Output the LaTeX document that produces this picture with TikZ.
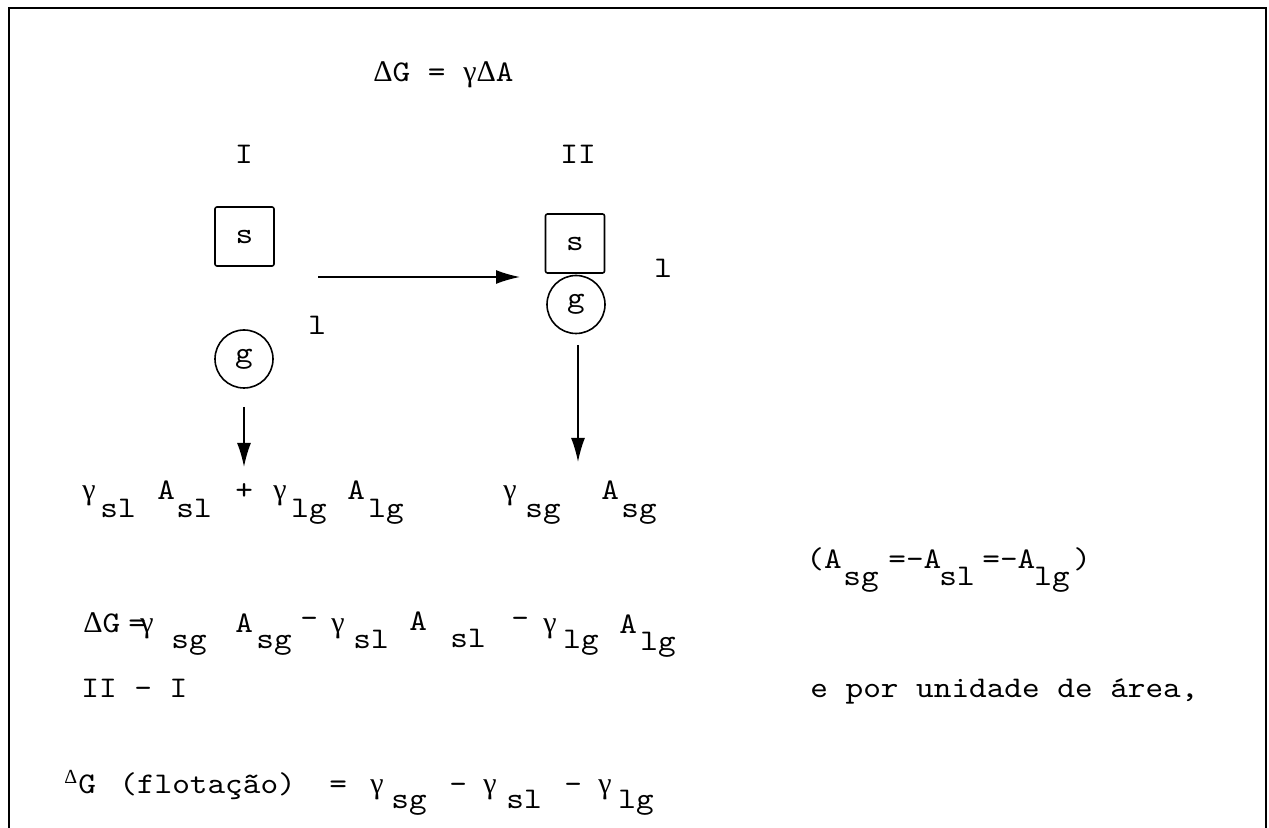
\documentclass[tikz,border=0pt]{standalone}
\usepackage{fontspec}
\setmonofont{lmmono10-regular.otf}[FakeStretch=1.12]
\newfontfamily\grkfont{Liberation Serif}
\newcommand{\gam}{{\grkfont γ}}
\newcommand{\Dlt}{{\grkfont Δ}}
\usetikzlibrary{arrows.meta}
\begin{document}
\begin{tikzpicture}[x=0.5pt,y=-0.5pt,
  txt/.style={font=\fontsize{15pt}{17pt}\selectfont\ttfamily, inner sep=0pt, anchor=base west},
  ctr/.style={font=\fontsize{15pt}{17pt}\selectfont\ttfamily, inner sep=0pt, anchor=base},
  small/.style={font=\fontsize{10pt}{12pt}\selectfont\ttfamily, inner sep=0pt, anchor=base west},
  frame/.style={line width=1pt},
  sbox/.style={draw, line width=0.8pt, minimum size=29.5pt, inner sep=0pt, rounded corners=1pt,
    font=\fontsize{15pt}{17pt}\selectfont\ttfamily},
  gcirc/.style={draw, circle, line width=0.8pt, minimum size=29pt, inner sep=0pt,
    font=\fontsize{15pt}{17pt}\selectfont\ttfamily},
  arr/.style={line width=0.8pt, -{Latex[length=12pt,width=7pt]}}]
\useasboundingbox (0,0) rectangle (1269,828);
% frame
\draw[frame] (9,828) -- (9,8) -- (1266,8) -- (1266,828);
% title
\node[txt] (title) at (373,82) {\Dlt G = \gam\Dlt A};
\node[ctr] (lI) at (244,164) {I};
\node[ctr] (lII) at (578,164) {II};
% state I
\node[sbox] (sI) at (244.5,236.5) {s};
\node[gcirc] (gI) at (244,359) {g};
\node[txt] (lI1) at (308,335) {l};
% state II
\node[sbox] (sII) at (575,243.5) {s};
\node[gcirc] (gII) at (576,304.5) {g};
\node[txt] (lII1) at (654,278) {l};
% arrows
\coordinate (h1) at (318,277);
\coordinate (h2) at (520,277);
\draw[arr] (h1) -- (h2);
\coordinate (d1a) at (244,407);
\coordinate (d1b) at (244,467);
\draw[arr] (d1a) -- (d1b);
\coordinate (d2a) at (578,345);
\coordinate (d2b) at (578,462);
\draw[arr] (d2a) -- (d2b);
% row A
\node[txt] (a1) at (82,500) {\gam};
\node[txt] (a2) at (100,517) {sl};
\node[txt] (a3) at (157,500) {A};
\node[txt] (a4) at (176,517) {sl};
\node[txt] (a5) at (235,500) {+};
\node[txt] (a6) at (273,500) {\gam};
\node[txt] (a7) at (291,517) {lg};
\node[txt] (a8) at (347,500) {A};
\node[txt] (a9) at (368,517) {lg};
\node[txt] (a10) at (503,500) {\gam};
\node[txt] (a11) at (525,517) {sg};
\node[txt] (a12) at (601,500) {A};
\node[txt] (a13) at (621,517) {sg};
% row B
\node[txt] (b1) at (806,568) {(A};
\node[txt] (b2) at (843,585) {sg};
\node[txt] (b3) at (888,568) {=-A};
\node[txt] (b4) at (939,585) {sl};
\node[txt] (b5) at (982,568) {=-A};
\node[txt] (b6) at (1034,585) {lg};
\node[txt] (b7) at (1073,568) {)};
% row C
\node[txt] (c1) at (83,632) {\Dlt G};
\node[txt] (c2) at (128,632) {=};
\node[txt] (c3) at (140,632) {\gam};
\node[txt] (c4) at (171,648) {sg};
\node[txt] (c5) at (235,632) {A};
\node[txt] (c6) at (256,648) {sg};
\node[txt] (c7) at (300,627) {-};
\node[txt] (c8) at (331,632) {\gam};
\node[txt] (c9) at (353,648) {sl};
\node[txt] (c10) at (409,630) {A};
\node[txt] (c11) at (450,647) {sl};
\node[txt] (c12) at (511,627) {-};
\node[txt] (c13) at (543,632) {\gam};
\node[txt] (c14) at (563,648) {lg};
\node[txt] (c15) at (619,633) {A};
\node[txt] (c16) at (640,650) {lg};
% row D
\node[txt] (d1) at (81,697) {II - I};
\node[txt] (d2) at (810,697) {e por unidade de área,};
% row E
\node[small] (e1) at (64,783) {\Dlt};
\node[txt] (e2) at (78,793) {G};
\node[txt] (e3) at (119,793) {(flotação)};
\node[txt] (e4) at (329,793) {=};
\node[txt] (e5) at (370,793) {\gam};
\node[txt] (e6) at (391,808) {sg};
\node[txt] (e7) at (449,793) {-};
\node[txt] (e8) at (483,793) {\gam};
\node[txt] (e9) at (506,808) {sl};
\node[txt] (e10) at (564,793) {-};
\node[txt] (e11) at (598,793) {\gam};
\node[txt] (e12) at (618,808) {lg};
\end{tikzpicture}
\end{document}
